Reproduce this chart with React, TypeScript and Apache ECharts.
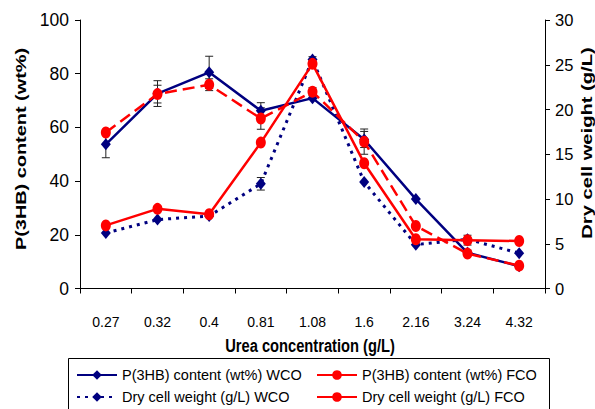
import React, { useEffect, useRef } from "react";
import * as echarts from "echarts";

const categories = ["0.27", "0.32", "0.4", "0.81", "1.08", "1.6", "2.16", "3.24", "4.32"];
const p3hbWCO = [53.7, 72.6, 80.5, 66.2, 70.9, 55.5, 33.3, 13.3, 8.3];
const p3hbFCO = [58.1, 72.4, 75.9, 63.3, 73.3, 54.7, 23.3, 13.0, 8.5];
const dcwWCO = [6.2, 7.7, 8.1, 11.7, 25.6, 11.9, 4.9, 5.5, 3.95];
const dcwFCO = [7.05, 8.9, 8.3, 16.3, 25.1, 14.0, 5.5, 5.4, 5.3];

const errP3hbWCO = [5, 4.8, 6, 3, 0, 3, 0, 1, 0];
const errP3hbFCO = [0, 3.3, 2.2, 4, 1.5, 4.7, 0, 0, 0];
const errDcwWCO = [0, 0, 0, 0.7, 0.3, 0, 0, 0, 0];
const errDcwFCO = [0, 0, 0, 0, 0, 0, 0, 0.55, 0];

const leftTicks = { min: 0, max: 100, interval: 20 };
const rightTicks = { min: 0, max: 30, interval: 5 };

const NAVY = "#000080";
const RED = "#ff0000";
const FONT = "'Liberation Sans', Arial, sans-serif";

const names = {
  pW: "P(3HB) content (wt%) WCO",
  pF: "P(3HB) content (wt%) FCO",
  dW: "Dry cell weight (g/L) WCO",
  dF: "Dry cell weight (g/L) FCO",
};

function errSeries(values: number[], errs: number[], yAxisIndex: number) {
  const data = values
    .map((v, i) => [i, v, errs[i]])
    .filter((d) => d[2] > 0);
  return {
    type: "custom",
    yAxisIndex,
    z: 1,
    silent: true,
    data,
    renderItem: (params: any, api: any) => {
      const x = api.value(0);
      const v = api.value(1);
      const e = api.value(2);
      const top = api.coord([x, v + e]);
      const bot = api.coord([x, v - e]);
      const style = { stroke: "#222", lineWidth: 1 };
      return {
        type: "group",
        children: [
          { type: "line", shape: { x1: top[0], y1: top[1], x2: bot[0], y2: bot[1] }, style },
          { type: "line", shape: { x1: top[0] - 4, y1: top[1], x2: top[0] + 4, y2: top[1] }, style },
          { type: "line", shape: { x1: bot[0] - 4, y1: bot[1], x2: bot[0] + 4, y2: bot[1] }, style },
        ],
      };
    },
  };
}

export default function App() {
  const ref = useRef<HTMLDivElement>(null);
  useEffect(() => {
    document.body.style.margin = "0";
    const chart = echarts.init(ref.current!, null, { renderer: "svg" });
    const legendText = { fontSize: 14.5, fontFamily: FONT, color: "#000", lineHeight: 16 };
    const mkLegend = (left: number, top: number, item: any) => ({
      orient: "horizontal",
      left,
      top,
      padding: 0,
      itemWidth: 40,
      itemHeight: 12,
      itemGap: 0,
      textStyle: legendText,
      data: [item],
    });
    chart.setOption({
      animation: false,
      backgroundColor: "#fff",
      grid: { left: 80, right: 50, top: 20, bottom: 120.5, containLabel: false },
      xAxis: {
        type: "category",
        data: categories,
        boundaryGap: true,
        axisLine: { lineStyle: { color: "#000", width: 1 } },
        axisTick: { show: true, length: 5, lineStyle: { color: "#000" } },
        axisLabel: { color: "#000", fontSize: 14, fontFamily: FONT, margin: 26 },
      },
      yAxis: [
        {
          type: "value",
          ...leftTicks,
          splitLine: { show: false },
          axisLine: { show: true, lineStyle: { color: "#000", width: 1 } },
          axisTick: { show: true, length: 5, lineStyle: { color: "#000" } },
          axisLabel: { color: "#000", fontSize: 17.5, fontFamily: FONT, margin: 11 },
        },
        {
          type: "value",
          position: "right",
          ...rightTicks,
          splitLine: { show: false },
          axisLine: { show: true, lineStyle: { color: "#000", width: 1 } },
          axisTick: { show: true, length: 5, lineStyle: { color: "#000" } },
          axisLabel: { color: "#000", fontSize: 16.5, fontFamily: FONT, margin: 10 },
        },
      ],
      legend: [
        mkLegend(76, 367, { name: names.pW }),
        mkLegend(76, 389, { name: names.dW }),
        mkLegend(316, 367, { name: names.pF, lineStyle: { type: "solid" } }),
        mkLegend(316, 389, { name: names.dF }),
      ],
      graphic: [
        {
          type: "rect",
          shape: { x: 68.5, y: 358.5, width: 481, height: 70 },
          style: { fill: "none", stroke: "#000", lineWidth: 1 },
          z: 0,
        },
        {
          type: "text",
          x: 310,
          y: 346,
          scaleY: 1.3,
          style: {
            text: "Urea concentration (g/L)",
            fontSize: 14.7,
            fontWeight: "bold",
            fontFamily: FONT,
            fill: "#000",
            align: "center",
            verticalAlign: "middle",
          },
        },
        {
          type: "text",
          x: 21,
          y: 149,
          rotation: Math.PI / 2,
          scaleX: 1.3,
          style: {
            text: "P(3HB) content (wt%)",
            fontSize: 15.3,
            fontWeight: "bold",
            fontFamily: FONT,
            fill: "#000",
            align: "center",
            verticalAlign: "middle",
          },
        },
        {
          type: "text",
          x: 587,
          y: 143,
          rotation: Math.PI / 2,
          scaleX: 1.3,
          style: {
            text: "Dry cell weight (g/L)",
            fontSize: 15.5,
            fontWeight: "bold",
            fontFamily: FONT,
            fill: "#000",
            align: "center",
            verticalAlign: "middle",
          },
        },
      ],
      series: [
        errSeries(p3hbWCO, errP3hbWCO, 0),
        errSeries(p3hbFCO, errP3hbFCO, 0),
        errSeries(dcwWCO, errDcwWCO, 1),
        errSeries(dcwFCO, errDcwFCO, 1),
        {
          name: names.pW,
          type: "line",
          yAxisIndex: 0,
          data: p3hbWCO,
          symbol: "diamond",
          symbolSize: [10, 12],
          itemStyle: { color: NAVY },
          lineStyle: { color: NAVY, width: 2.5 },
          z: 3,
        },
        {
          name: names.dW,
          type: "line",
          yAxisIndex: 1,
          data: dcwWCO,
          symbol: "diamond",
          symbolSize: [10, 12],
          itemStyle: { color: NAVY },
          lineStyle: { color: NAVY, width: 3, type: [3, 5] },
          z: 3,
        },
        {
          name: names.pF,
          type: "line",
          yAxisIndex: 0,
          data: p3hbFCO,
          symbol: "circle",
          symbolSize: [10, 12],
          itemStyle: { color: RED },
          lineStyle: { color: RED, width: 2.5, type: [12, 6] },
          z: 4,
        },
        {
          name: names.dF,
          type: "line",
          yAxisIndex: 1,
          data: dcwFCO,
          symbol: "circle",
          symbolSize: [10, 12],
          itemStyle: { color: RED },
          lineStyle: { color: RED, width: 2.5 },
          z: 4,
        },
      ],
    });
    return () => chart.dispose();
  }, []);
  return <div ref={ref} style={{ width: 595, height: 409 }} />;
}
